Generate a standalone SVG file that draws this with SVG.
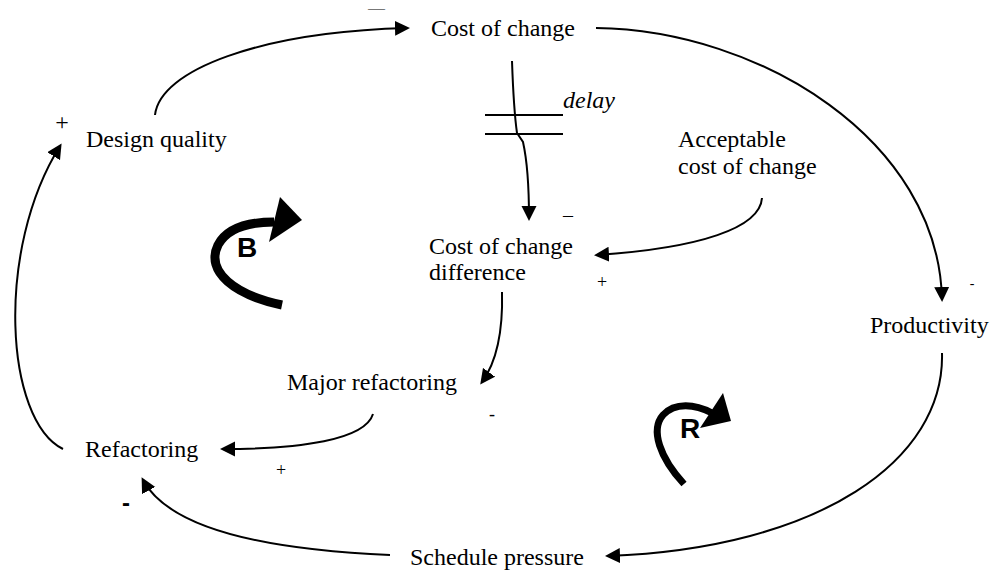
<svg xmlns="http://www.w3.org/2000/svg" width="991" height="573" viewBox="0 0 991 573">
  <style>
    .lbl { font-family: "Liberation Serif", "Times New Roman", serif; font-size: 24px; fill: #000; }
    .sign { font-family: "Liberation Serif", "Times New Roman", serif; fill: #000; }
    .loop { font-family: "Liberation Sans", Arial, sans-serif; font-weight: bold; font-size: 28px; fill: #000; }
    .link { fill: none; stroke: #000; stroke-width: 2; marker-end: url(#head); }
    .plain { fill: none; stroke: #000; stroke-width: 2; }
    .swirl { fill: none; stroke: #000; }
  </style>
  <defs>
    <marker id="head" markerUnits="userSpaceOnUse" markerWidth="16" markerHeight="16" refX="12" refY="7.5" orient="auto">
      <path d="M0,0 L15,7.5 L0,15 z" fill="#000"/>
    </marker>
  </defs>
  <rect width="991" height="573" fill="#fff"/>

  <!-- causal links -->
  <g id="connectors">
    <path class="link" d="M155,115 C160,70 260,32 407,28"/>
    <path class="link" d="M596,28 C760,30 938,140 942,299"/>
    <path class="link" d="M942,353 C945,460 820,548 608,556"/>
    <path class="link" d="M390,555 C270,550 170,530 143,480"/>
    <path class="link" d="M63,449 C5,420 -5,250 60,146"/>
    <path class="link" d="M373,414 C365,440 300,449 223,449"/>
    <path class="link" d="M502,292 C503,330 498,360 482,382"/>
    <path class="link" d="M762,198 C760,228 700,248 597,255"/>
    <path class="link" d="M512,61 C513,90 514,112 517,133 L523,142 C527,160 529,185 529,218"/>
    <!-- delay mark -->
    <path class="plain" d="M485,115 H563 M485,134 H563"/>
    <text class="sign" x="563" y="108" font-size="24" font-style="italic">delay</text>
    <!-- link polarities -->
    <text class="sign" x="368" y="12" font-size="12" textLength="17" lengthAdjust="spacingAndGlyphs">—</text>
    <text class="sign" x="62" y="130" font-size="24" text-anchor="middle">+</text>
    <text class="sign" x="568" y="222" font-size="20" text-anchor="middle">–</text>
    <text class="sign" x="602" y="288" font-size="18" text-anchor="middle">+</text>
    <text class="sign" x="972" y="288" font-size="14" text-anchor="middle">-</text>
    <text class="sign" x="492" y="420" font-size="18" text-anchor="middle">-</text>
    <text class="sign" x="281" y="476" font-size="18" text-anchor="middle">+</text>
    <text x="126" y="511" font-family="Liberation Sans, Arial, sans-serif" font-weight="bold" font-size="24" text-anchor="middle">-</text>
  </g>

  <g id="cost-of-change"><text class="lbl" x="431" y="36">Cost of change</text></g>
  <g id="design-quality"><text class="lbl" x="86" y="147">Design quality</text></g>
  <g id="acceptable-cost"><text class="lbl" x="678" y="147">Acceptable</text><text class="lbl" x="678" y="174">cost of change</text></g>
  <g id="cost-difference"><text class="lbl" x="429" y="254">Cost of change</text><text class="lbl" x="429" y="280">difference</text></g>
  <g id="major-refactoring"><text class="lbl" x="287" y="390">Major refactoring</text></g>
  <g id="refactoring"><text class="lbl" x="85" y="457">Refactoring</text></g>
  <g id="productivity"><text class="lbl" x="870" y="333">Productivity</text></g>
  <g id="schedule-pressure"><text class="lbl" x="410" y="565">Schedule pressure</text></g>

  <!-- loop polarity symbols -->
  <g id="loop-b">
    <path class="swirl" stroke-width="9" d="M282,305 C235,295 205,272 218,245 C226,230 245,222 274,222"/>
    <polygon points="280,197 302,220 269,242" fill="#000"/>
    <text class="loop" x="237" y="257">B</text>
  </g>
  <g id="loop-r">
    <path class="swirl" stroke-width="7" d="M684,484 C660,458 650,430 663,415 C675,402 695,404 712,413"/>
    <polygon points="723,393 731,421 700,428" fill="#000"/>
    <text class="loop" x="680" y="438">R</text>
  </g>
</svg>
